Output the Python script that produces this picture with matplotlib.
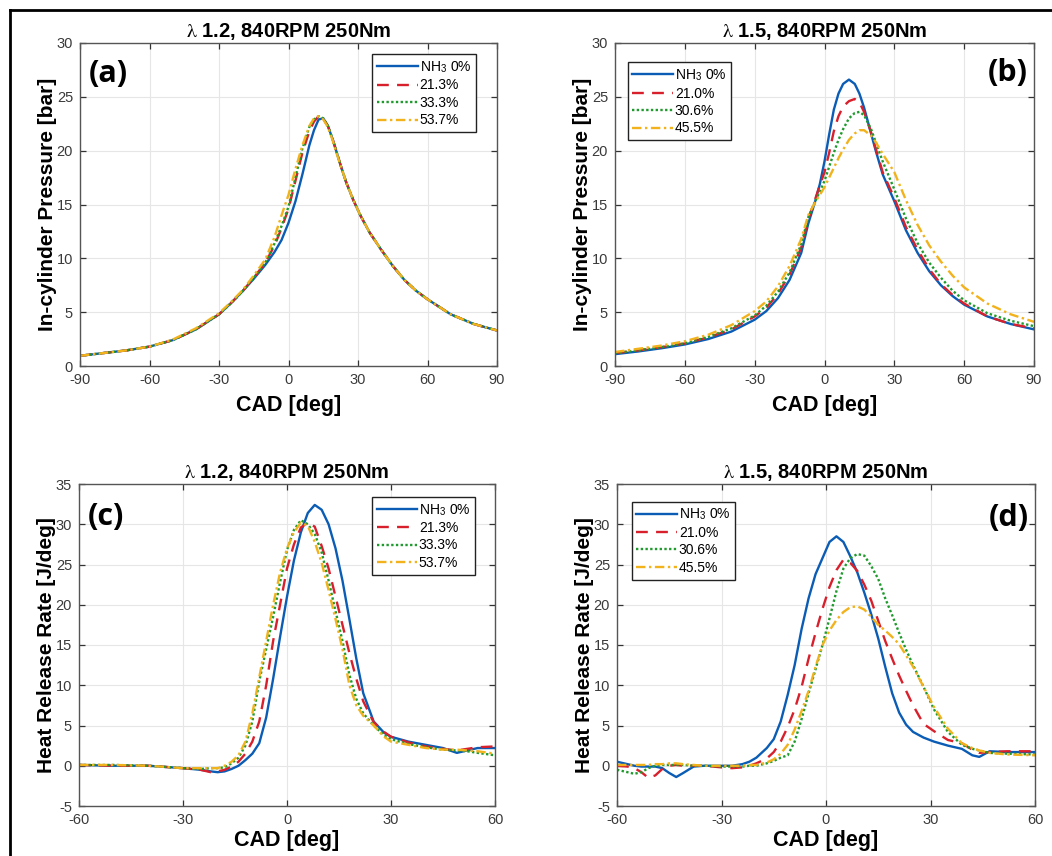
import matplotlib
matplotlib.use('Agg')
import matplotlib.pyplot as plt
from matplotlib.lines import Line2D
import numpy as np

plt.rcParams['font.family'] = ['Liberation Sans', 'DejaVu Sans']
plt.rcParams['mathtext.fontset'] = 'stix'
plt.rcParams['axes.unicode_minus'] = False

# ---- data ----
# (a) lambda 1.2, in-cylinder pressure [bar]
cad_a = [-90, -80, -70, -60, -50, -40, -30, -25, -20, -15, -10, -6, -3, 0, 3, 6, 9, 11, 13, 15,
         17, 19, 21, 23, 25, 28, 31, 35, 40, 45, 50, 55, 60, 70, 80, 90]
p_a_0 = [0.95, 1.2, 1.45, 1.8, 2.4, 3.4, 4.8, 5.8, 6.9, 8.1, 9.4, 10.6, 11.7, 13.3, 15.3, 17.8, 20.5, 21.9, 22.9, 23.0,
         22.3, 21.1, 19.7, 18.3, 17.0, 15.4, 14.0, 12.4, 10.8, 9.3, 8.0, 7.0, 6.2, 4.8, 3.9, 3.3]
p_a_1 = [0.95, 1.2, 1.45, 1.8, 2.4, 3.4, 4.8, 5.8, 6.9, 8.2, 9.6, 11.2, 12.8, 14.6, 17.2, 19.8, 21.8, 22.7, 23.2, 23.0,
         22.3, 21.1, 19.7, 18.3, 17.0, 15.4, 14.0, 12.4, 10.8, 9.3, 8.0, 7.0, 6.2, 4.8, 3.9, 3.3]
p_a_2 = [0.95, 1.2, 1.45, 1.8, 2.4, 3.4, 4.8, 5.8, 6.9, 8.2, 9.6, 11.4, 13.0, 14.8, 17.5, 20.2, 22.2, 22.9, 23.2, 23.0,
         22.3, 21.1, 19.7, 18.3, 17.0, 15.4, 14.0, 12.4, 10.8, 9.3, 8.0, 7.0, 6.2, 4.8, 3.9, 3.3]
p_a_3 = [0.95, 1.2, 1.45, 1.8, 2.45, 3.5, 4.9, 5.9, 7.0, 8.4, 9.9, 12.0, 14.0, 15.9, 18.3, 20.5, 22.3, 23.0, 23.2, 22.9,
         22.2, 21.0, 19.6, 18.3, 17.0, 15.4, 14.0, 12.4, 10.8, 9.3, 8.0, 7.0, 6.2, 4.8, 3.9, 3.3]

# (b) lambda 1.5, in-cylinder pressure [bar]
cad_b = [-90, -80, -70, -60, -50, -40, -30, -25, -20, -15, -10, -7, -4, -2, 0, 2, 4, 6, 8, 10.5, 13, 15, 17,
         20, 22, 25, 30, 35, 40, 45, 50, 55, 60, 70, 80, 90]
p_b_0 = [1.1, 1.35, 1.65, 2.0, 2.5, 3.2, 4.3, 5.1, 6.3, 8.0, 10.5, 13.2, 15.3, 16.9, 19.0, 21.5, 23.8, 25.3, 26.2, 26.6,
         26.2, 25.3, 24.0, 21.6, 20.0, 17.8, 15.3, 12.6, 10.5, 8.8, 7.5, 6.5, 5.7, 4.6, 3.9, 3.4]
p_b_1 = [1.2, 1.45, 1.75, 2.1, 2.65, 3.4, 4.6, 5.4, 6.7, 8.5, 11.0, 13.6, 15.5, 16.8, 18.0, 19.8, 21.8, 23.2, 24.1, 24.6,
         24.8, 24.5, 23.6, 21.7, 20.2, 18.0, 15.6, 12.9, 10.8, 9.0, 7.6, 6.6, 5.8, 4.6, 3.9, 3.5]
p_b_2 = [1.2, 1.45, 1.75, 2.1, 2.7, 3.5, 4.7, 5.6, 6.9, 8.7, 11.3, 13.8, 15.3, 16.2, 17.2, 18.5, 19.8, 21.0, 22.0, 23.0,
         23.5, 23.6, 23.3, 22.0, 20.8, 19.0, 16.4, 13.7, 11.4, 9.6, 8.2, 7.0, 6.1, 4.9, 4.2, 3.7]
p_b_3 = [1.3, 1.6, 1.9, 2.3, 2.9, 3.8, 5.1, 6.0, 7.4, 9.3, 11.8, 14.0, 15.2, 15.9, 16.6, 17.5, 18.4, 19.3, 20.1, 21.0,
         21.6, 21.9, 21.9, 21.4, 20.8, 19.7, 18.0, 15.4, 13.1, 11.2, 9.7, 8.4, 7.3, 5.8, 4.8, 4.1]

# (c) lambda 1.2, heat release rate [J/deg]
cad_c = [-60, -50, -40, -30, -25, -22, -20, -18, -16, -14, -12, -10, -8, -6, -4, -2, 0, 2, 4, 6, 8, 10,
         12, 14, 16, 18, 20, 22, 25, 28, 30, 35, 40, 45, 49, 52, 55, 60]
h_c_0 = [0.1, 0.0, 0.0, -0.3, -0.5, -0.7, -0.8, -0.7, -0.4, 0.0, 0.7, 1.5, 2.8, 6.0, 10.8, 16.0, 21.0, 25.5, 29.0, 31.4,
         32.4, 31.8, 30.0, 27.0, 23.0, 18.2, 13.3, 9.0, 5.5, 4.1, 3.6, 3.0, 2.6, 2.2, 1.6, 1.9, 2.2, 2.2]
h_c_1 = [0.1, 0.0, 0.0, -0.3, -0.5, -0.8, -0.7, -0.5, -0.1, 0.5, 1.5, 3.0, 5.5, 10.0, 15.5, 20.0, 24.5, 27.5, 29.6, 30.2,
         29.7, 27.3, 24.5, 21.0, 17.5, 14.0, 10.8, 8.0, 5.4, 4.2, 3.6, 2.9, 2.4, 2.1, 1.9, 2.1, 2.3, 2.4]
h_c_2 = [0.1, 0.1, 0.0, -0.3, -0.4, -0.3, -0.3, -0.2, 0.3, 1.0, 2.5, 5.5, 10.5, 14.5, 18.5, 22.8, 26.8, 29.3, 30.5, 30.0,
         28.8, 26.5, 23.0, 19.2, 15.5, 11.3, 8.3, 6.5, 5.0, 3.8, 3.3, 2.7, 2.3, 2.0, 1.9, 1.8, 1.6, 1.3]
h_c_3 = [0.1, 0.1, 0.0, -0.3, -0.3, -0.3, -0.3, 0.0, 0.5, 1.3, 3.0, 6.5, 11.0, 15.5, 20.0, 24.0, 27.0, 29.0, 30.2, 29.8,
         27.8, 25.2, 21.8, 18.2, 14.5, 10.0, 7.5, 6.2, 5.0, 3.6, 3.0, 2.6, 2.2, 2.0, 2.0, 1.9, 1.8, 1.5]

# (d) lambda 1.5, heat release rate [J/deg]
cad_d = [-60, -57, -55, -53, -51, -49, -47, -45, -43, -41, -38, -35, -30, -27, -24, -22,
         -20, -17, -15, -13, -11, -9, -7, -5, -3, -1, 1, 3, 5, 7, 9, 11, 13, 15, 17, 19, 21, 23, 25,
         28, 31, 35, 39, 42, 44, 47, 52, 60]
h_d_0 = [0.5, 0.2, 0.0, -0.1, -0.1, -0.1, -0.3, -0.9, -1.4, -0.9, -0.1, 0.0, 0.0, 0.0, 0.2, 0.5,
         1.0, 2.2, 3.3, 5.5, 8.8, 12.5, 17.0, 20.8, 23.8, 25.8, 27.8, 28.5, 27.8, 26.0, 24.0, 21.5, 18.8, 15.8, 12.3, 9.0, 6.6, 5.1, 4.2,
         3.5, 3.0, 2.5, 2.1, 1.3, 1.1, 1.8, 1.7, 1.7]
h_d_1 = [0.0, -0.1, -0.3, -0.8, -1.5, -1.2, -0.4, 0.0, 0.1, 0.0, 0.0, 0.0, -0.2, -0.3, -0.2, 0.0,
         0.3, 0.9, 1.7, 3.0, 4.8, 7.0, 9.8, 13.3, 16.5, 19.5, 22.2, 24.3, 25.6, 25.2, 24.2, 22.5, 20.5, 18.0, 15.5, 13.3, 11.2, 9.3, 7.5,
         5.2, 4.3, 3.2, 2.8, 2.0, 1.6, 1.7, 1.8, 1.8]
h_d_2 = [-0.5, -0.8, -1.0, -0.8, -0.3, 0.0, 0.1, 0.1, 0.1, 0.1, 0.0, 0.0, -0.1, -0.1, -0.1, 0.0,
         0.0, 0.3, 0.6, 1.0, 1.3, 3.0, 5.8, 9.0, 12.0, 15.0, 18.3, 21.7, 24.5, 25.8, 26.3, 26.1, 24.8, 23.2, 20.8, 18.7, 16.5, 14.4, 12.5,
         9.8, 7.0, 4.2, 2.6, 2.1, 1.9, 1.6, 1.5, 1.4]
h_d_3 = [0.1, 0.1, 0.1, 0.1, 0.1, 0.2, 0.2, 0.3, 0.3, 0.2, 0.1, 0.0, 0.0, 0.0, 0.0, 0.1,
         0.1, 0.4, 0.8, 1.5, 2.6, 4.5, 6.8, 9.3, 12.3, 15.0, 16.8, 18.1, 19.1, 19.7, 19.8, 19.4, 18.5, 17.5, 16.8, 16.0, 15.1, 13.7, 12.3,
         9.8, 7.3, 4.6, 2.8, 2.2, 1.9, 1.6, 1.4, 1.3]

labels_12 = ['NH$_\\mathregular{3}$ 0%', '21.3%', '33.3%', '53.7%']
labels_15 = ['NH$_\\mathregular{3}$ 0%', '21.0%', '30.6%', '45.5%']
title_12 = '$\\mathrm{\\lambda}$ 1.2, 840RPM 250Nm'
title_15 = '$\\mathrm{\\lambda}$ 1.5, 840RPM 250Nm'

colors = ['#0a5cb5', '#d8202c', '#1f9a2c', '#f2b21c']
styles = ['-', (0, (5, 3.5)), (0, (1, 1)), (0, (4, 1.5, 1, 1.5))]

W, H = 1052, 856
fig = plt.figure(figsize=(W / 100, H / 100), dpi=100)

# outer frame (clipped on the right and bottom in the original)
fig.add_artist(Line2D([10 / W, 10 / W], [1 - 10 / H, 0], color='black', lw=2, transform=fig.transFigure))
fig.add_artist(Line2D([10 / W, 1], [1 - 10 / H, 1 - 10 / H], color='black', lw=2, transform=fig.transFigure))


def make_ax(l, t, r, b):
    return fig.add_axes([l / W, 1 - b / H, (r - l) / W, (b - t) / H])


def style_ax(ax, xlim, xticks, ylim, yticks, ylabel, title, xpad):
    ax.set_xlim(xlim)
    ax.set_ylim(ylim)
    ax.set_xticks(xticks)
    ax.set_yticks(yticks)
    ax.grid(True, color='#e6e6e6', lw=0.8)
    ax.set_axisbelow(True)
    for s in ax.spines.values():
        s.set_color('#555555')
        s.set_linewidth(1.0)
    ax.tick_params(direction='in', top=True, right=True, length=4, width=0.9,
                   color='#333333', labelsize=10.5, labelcolor='#3a3a3a', pad=5)
    ax.set_xlabel('CAD [deg]', fontsize=15.5, fontweight='bold', labelpad=xpad)
    ax.set_ylabel(ylabel, fontsize=15, fontweight='bold', labelpad=0)
    ax.set_title(title, fontsize=14.5, fontweight='bold', pad=4)


def draw(ax, x, series, labels, loc, anchor):
    for y, c, ls, lab in zip(series, colors, styles, labels):
        ax.plot(x, y, color=c, ls=ls, lw=1.7, label=lab)
    leg = ax.legend(loc=loc, bbox_to_anchor=anchor, fontsize=10, frameon=True, fancybox=False,
                    edgecolor='#222222', framealpha=1, handlelength=2.9, handletextpad=0.15,
                    borderpad=0.35, labelspacing=0.25, borderaxespad=0)
    leg.get_frame().set_linewidth(1.0)


# (a)
ax = make_ax(80, 43, 497, 366)
draw(ax, cad_a, [p_a_0, p_a_1, p_a_2, p_a_3], labels_12, 'upper right', (0.95, 0.965))
style_ax(ax, (-90, 90), np.arange(-90, 91, 30), (0, 30), np.arange(0, 31, 5),
         'In-cylinder Pressure [bar]', title_12, 6)
ax.text(0.02, 0.95, '(a)', transform=ax.transAxes, ha='left', va='top',
        fontsize=22, fontweight='bold', family=['Open Sans', 'DejaVu Sans'])

# (b)
ax = make_ax(615, 43, 1034, 366)
draw(ax, cad_b, [p_b_0, p_b_1, p_b_2, p_b_3], labels_15, 'upper left', (0.03, 0.94))
style_ax(ax, (-90, 90), np.arange(-90, 91, 30), (0, 30), np.arange(0, 31, 5),
         'In-cylinder Pressure [bar]', title_15, 6)
ax.text(0.985, 0.955, '(b)', transform=ax.transAxes, ha='right', va='top',
        fontsize=22, fontweight='bold', family=['Open Sans', 'DejaVu Sans'])

# (c)
ax = make_ax(79, 484, 495, 806)
draw(ax, cad_c, [h_c_0, h_c_1, h_c_2, h_c_3], labels_12, 'upper right', (0.953, 0.96))
style_ax(ax, (-60, 60), np.arange(-60, 61, 30), (-5, 35), np.arange(-5, 36, 5),
         'Heat Release Rate [J/deg]', title_12, 2)
ax.text(0.02, 0.945, '(c)', transform=ax.transAxes, ha='left', va='top',
        fontsize=22, fontweight='bold', family=['Open Sans', 'DejaVu Sans'])

# (d)
ax = make_ax(617, 484, 1035, 806)
draw(ax, cad_d, [h_d_0, h_d_1, h_d_2, h_d_3], labels_15, 'upper left', (0.035, 0.945))
style_ax(ax, (-60, 60), np.arange(-60, 61, 30), (-5, 35), np.arange(-5, 36, 5),
         'Heat Release Rate [J/deg]', title_15, 2)
ax.text(0.985, 0.94, '(d)', transform=ax.transAxes, ha='right', va='top',
        fontsize=22, fontweight='bold', family=['Open Sans', 'DejaVu Sans'])

fig.savefig('out.png', dpi=100)
